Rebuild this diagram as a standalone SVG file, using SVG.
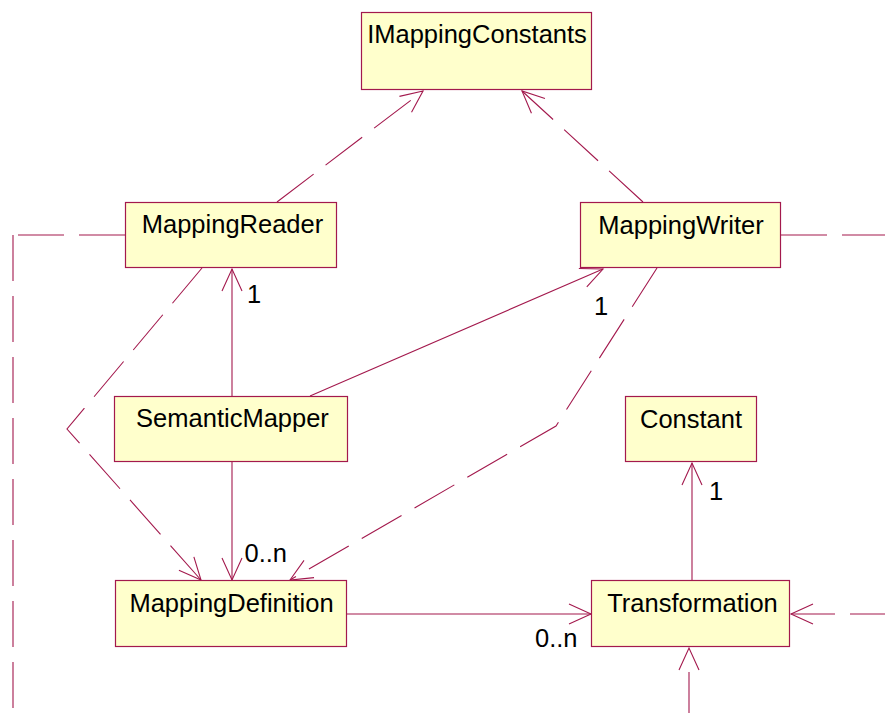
<svg xmlns="http://www.w3.org/2000/svg" width="885" height="713" viewBox="0 0 885 713">
  <style>
    .node rect { fill: #FFFFCC; stroke: #A3194D; stroke-width: 1.2; }
    .node text, .label { font-family: "Liberation Sans", Arial, sans-serif; font-size: 25.5px; fill: #000; }
    .node text { text-anchor: middle; }
    .edge { fill: none; stroke: #A3194D; stroke-width: 1.1; }
    .dep { stroke-dasharray: 46 15; }
  </style>
  <defs>
    <marker id="open" markerUnits="userSpaceOnUse" viewBox="-25 -12 27 24" refX="0" refY="0" markerWidth="27" markerHeight="24" orient="auto" overflow="visible">
      <path d="M-22,-10 L0,0 L-22,10" fill="none" stroke="#A3194D" stroke-width="1.1" stroke-dasharray="none"/>
    </marker>
  </defs>

  <!-- connectors -->
  <g id="connectors">
    <!-- realizations of IMappingConstants -->
    <path class="edge dep" d="M277,202 L423,91" marker-end="url(#open)"/>
    <path class="edge dep" d="M643,202 L522,91" marker-end="url(#open)"/>
    <!-- dependencies on MappingDefinition -->
    <path class="edge dep" d="M202,268 L67,429 L201,580" marker-end="url(#open)"/>
    <path class="edge dep" d="M657,268 L556,426 L290,580" marker-end="url(#open)"/>
    <!-- SemanticMapper associations -->
    <path class="edge" d="M232,396 V269" marker-end="url(#open)"/>
    <path class="edge" d="M310,396 L603,269" marker-end="url(#open)"/>
    <path class="edge" d="M232,462 V580" marker-end="url(#open)"/>
    <!-- MappingDefinition to Transformation -->
    <path class="edge" d="M347,614 H591" marker-end="url(#open)"/>
    <!-- Transformation to Constant -->
    <path class="edge" d="M692,581 V463" marker-end="url(#open)"/>
    <!-- links leaving the visible area -->
    <path class="edge dep" d="M885,614 H791" stroke-dashoffset="11" marker-end="url(#open)"/>
    <path class="edge" d="M689,713 V648" stroke-dasharray="41 200" marker-end="url(#open)"/>
    <path class="edge dep" d="M125,235 H13"/>
    <path class="edge dep" d="M13,235 V713" stroke-dasharray="46 15.5"/>
    <path class="edge dep" d="M781,235 H885"/>
    <!-- multiplicities -->
    <text class="label" x="247" y="303">1</text>
    <text class="label" x="594" y="315">1</text>
    <text class="label" x="244.5" y="562">0..n</text>
    <text class="label" x="709" y="500">1</text>
    <text class="label" x="535" y="646.5">0..n</text>
  </g>

  <g id="IMappingConstants" class="node">
    <rect x="361.5" y="12.5" width="230" height="77"/>
    <text x="477" y="43">IMappingConstants</text>
  </g>
  <g id="MappingReader" class="node">
    <rect x="125.5" y="202.5" width="211" height="65"/>
    <text x="232.5" y="233">MappingReader</text>
  </g>
  <g id="MappingWriter" class="node">
    <rect x="580.5" y="202.5" width="200" height="65"/>
    <text x="681" y="234">MappingWriter</text>
  </g>
  <g id="SemanticMapper" class="node">
    <rect x="114.5" y="396.5" width="233" height="65"/>
    <text x="232.5" y="427">SemanticMapper</text>
  </g>
  <g id="Constant" class="node">
    <rect x="625.5" y="396.5" width="131" height="65"/>
    <text x="691" y="427.5">Constant</text>
  </g>
  <g id="MappingDefinition" class="node">
    <rect x="115.5" y="580.5" width="231" height="66"/>
    <text x="231.5" y="612">MappingDefinition</text>
  </g>
  <g id="Transformation" class="node">
    <rect x="591.5" y="580.5" width="198" height="66"/>
    <text x="692.5" y="612">Transformation</text>
  </g>
</svg>
